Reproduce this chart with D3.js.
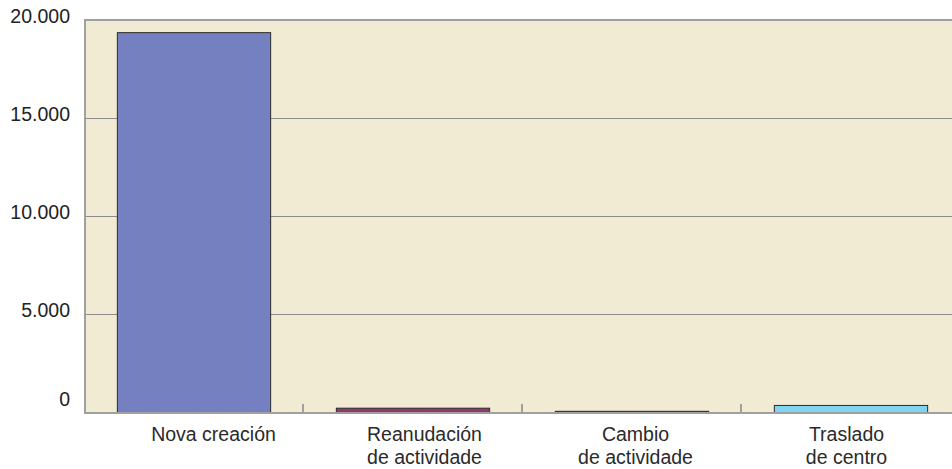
<!DOCTYPE html>
<html>
<head>
<meta charset="utf-8">
<script src="https://cdn.jsdelivr.net/npm/d3@7"></script>
<style>
  body { margin: 0; background: #fff; }
  svg { display: block; font-family: "Liberation Sans", Arial, sans-serif; }
</style>
</head>
<body>
<svg id="chart" width="952" height="469"></svg>
<script>
const categories = [`Nova creación`, `Reanudación|de actividade`, `Cambio|de actividade`, `Traslado|de centro`];
const values = [19380, 220, 60, 360];
const barColors = [`#7480bf`, `#8e3a6a`, `#3a3a3a`, `#80d4f2`];
const yTicks = [0, 5000, 10000, 15000, 20000];

const chartWidth = 952;
const plotLeft = 84;
const plotRight = 960;
const plotTop = 20;
const plotBottom = 412;

const svg = d3.select(`#chart`);

const x = d3.scaleBand()
    .domain(categories)
    .range([plotLeft, plotRight])
    .paddingInner(0.3)
    .paddingOuter(0.15);

const xSlots = d3.scaleBand()
    .domain(categories)
    .range([plotLeft, plotRight]);

// the category labels sit on a slightly tighter spacing than the bars
const xLabels = d3.scaleBand()
    .domain(categories)
    .range([108, 952]);

const y = d3.scaleLinear()
    .domain([0, 20000])
    .range([plotBottom, plotTop]);

const fmt = d3.format(`,`);
const esFmt = v => fmt(v).replace(/,/g, `.`);

// plot background
svg.append(`rect`)
    .attr(`x`, plotLeft)
    .attr(`y`, plotTop)
    .attr(`width`, chartWidth - plotLeft)
    .attr(`height`, plotBottom - plotTop)
    .attr(`fill`, `#f1ebd3`);

// gridlines
svg.append(`g`)
    .selectAll(`line`)
    .data(yTicks.filter(t => t > 0 && t < 20000))
    .enter().append(`line`)
        .attr(`x1`, plotLeft)
        .attr(`x2`, chartWidth)
        .attr(`y1`, d => y(d) + 0.5)
        .attr(`y2`, d => y(d) + 0.5)
        .attr(`stroke`, `#8c8c8c`)
        .attr(`stroke-width`, 1);

// top and left borders
svg.append(`line`)
    .attr(`x1`, plotLeft).attr(`x2`, chartWidth)
    .attr(`y1`, plotTop).attr(`y2`, plotTop)
    .attr(`stroke`, `#a0a0a0`).attr(`stroke-width`, 2);
svg.append(`line`)
    .attr(`x1`, plotLeft + 1).attr(`x2`, plotLeft + 1)
    .attr(`y1`, plotTop).attr(`y2`, plotBottom)
    .attr(`stroke`, `#a0a0a0`).attr(`stroke-width`, 2);

// bars
svg.append(`g`)
    .selectAll(`rect`)
    .data(values)
    .enter().append(`rect`)
        .attr(`x`, (d, i) => x(categories[i]) + 0.5)
        .attr(`y`, d => y(d) + 0.5)
        .attr(`width`, x.bandwidth())
        .attr(`height`, d => Math.max(plotBottom - y(d), 1))
        .attr(`fill`, (d, i) => barColors[i])
        .attr(`stroke`, `#2b2b2b`)
        .attr(`stroke-width`, 1);

// baseline
svg.append(`line`)
    .attr(`x1`, plotLeft).attr(`x2`, chartWidth)
    .attr(`y1`, plotBottom + 1).attr(`y2`, plotBottom + 1)
    .attr(`stroke`, `#a0a0a0`).attr(`stroke-width`, 2);

// slot tick marks
svg.append(`g`)
    .selectAll(`line`)
    .data(categories.slice(1))
    .enter().append(`line`)
        .attr(`x1`, d => xSlots(d))
        .attr(`x2`, d => xSlots(d))
        .attr(`y1`, plotBottom - 8)
        .attr(`y2`, plotBottom)
        .attr(`stroke`, `#a0a0a0`)
        .attr(`stroke-width`, 2);

// y labels (baseline just under each gridline; the zero sits above the axis)
svg.append(`g`)
    .selectAll(`text`)
    .data(yTicks)
    .enter().append(`text`)
        .attr(`x`, 70)
        .attr(`y`, d => d === 0 ? y(d) - 6 : y(d) + 3)
        .attr(`text-anchor`, `end`)
        .attr(`font-size`, 19.5)
        .attr(`fill`, `#222`)
        .text(d => esFmt(d));

// category labels
const catLabels = svg.append(`g`)
    .selectAll(`text`)
    .data(categories)
    .enter().append(`text`)
        .attr(`text-anchor`, `middle`)
        .attr(`font-size`, 19.5)
        .attr(`fill`, `#2a2a2a`)
        .attr(`transform`, d => `translate(${xLabels(d) + xLabels.bandwidth() / 2}, 441)`);

catLabels.selectAll(`tspan`)
    .data(d => d.split(`|`))
    .enter().append(`tspan`)
        .attr(`x`, 0)
        .attr(`dy`, (d, i) => i === 0 ? 0 : 22.5)
        .text(d => d);
</script>
</body>
</html>
